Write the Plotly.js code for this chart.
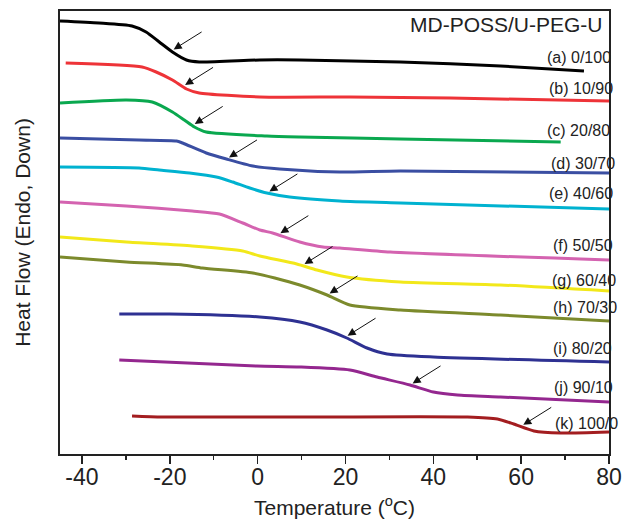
<!DOCTYPE html>
<html>
<head>
<meta charset="utf-8">
<script src="https://cdn.plot.ly/plotly-3.0.1.min.js"></script>
<style>html,body{margin:0;padding:0;background:#fff;}#chart{width:624px;height:519px;}</style>
</head>
<body>
<div id="chart"></div>
<script>
// ---- Data (temperature in °C, heat flow in arbitrary offset units) ----
const seriesNames = ["(a) 0/100","(b) 10/90","(c) 20/80","(d) 30/70","(e) 40/60","(f) 50/50","(g) 60/40","(h) 70/30","(i) 80/20","(j) 90/10","(k) 100/0"];

const tA = [-45,-36.1,-28.6,-25.4,-22.4,-19.4,-16.2,-13.3,0.5,9.6,32.5,55.3,74.3];
const hA = [43.3,43.1,42.8,42.2,41.2,40.2,39.4,39.2,39.4,39.4,39.2,38.8,38.3];

const tB = [-43.7,-26.3,-23.1,-19.4,-16.2,-13.3,0.5,21.0,43.9,80];
const hB = [39.1,38.7,38.2,37.4,36.5,36.1,35.7,35.7,35.6,35.3];

const tC = [-45,-29.9,-24.0,-19.4,-16.7,-14.4,-11.7,2.1,9.6,32.5,69.0];
const hC = [35.1,35.4,35.2,34.2,33.4,32.7,32.2,31.8,31.7,31.5,31.2];

const tD = [-45,-27.0,-18.5,-17.1,-11.7,-7.1,-1.1,5.0,18.7,32.5,80];
const hD = [31.6,31.4,31.3,31.1,30.1,29.5,28.8,28.5,28.2,28.3,28.1];

const tE = [-45,-27.0,-22.4,-15.5,-9.4,-5.7,-1.8,2.1,7.3,18.7,32.5,80];
const hE = [28.7,28.6,28.4,28.1,27.7,27.2,26.6,26.1,25.7,25.3,25.1,24.5];

const tF = [-45,-29.9,-14.9,-8.7,-3.4,0.5,3.4,9.6,14.9,18.7,30.2,80];
const hF = [25.2,24.8,24.3,24.0,23.1,22.4,22.1,21.2,20.7,20.6,20.2,19.4];

const tG = [-45,-29.9,-14.9,-3.4,0.5,8.9,13.5,20.3,32.5,55.3,80];
const hG = [21.7,21.2,20.8,20.3,19.8,19.0,18.4,17.7,17.2,16.9,16.3];

const tH = [-45,-29.9,-17.1,-12.6,-1.1,3.9,9.6,15.8,21.0,32.5,55.3,80];
const hH = [19.7,19.2,18.9,18.6,18.1,17.6,16.9,15.9,14.9,14.4,13.9,13.3];

const tI = [-31.5,-20.1,0.5,9.6,15.8,20.3,24.9,29.5,40.0,80];
const hI = [14.0,14.0,13.7,13.2,12.4,11.6,10.6,10.0,9.7,9.2];

const tJ = [-31.5,-0.2,9.6,21.0,27.2,34.7,40.0,45.5,55.3,80];
const hJ = [9.4,8.8,8.7,8.4,7.7,6.9,6.2,5.9,5.7,5.2];

const tK = [-28.6,-21.7,9.6,47.8,54.6,58.3,62.9,69.0,80];
const hK = [3.8,3.7,3.7,3.7,3.5,3.0,2.3,2.1,2.2];

// Glass transition temperatures marked by arrows
const tg = [-19.7,-17.1,-14.9,-7.1,2.1,4.6,10.1,15.8,19.9,34.7,59.9];

const xTicks = [-40,-20,0,20,40,60,80];

// ---- Styles / layout ----
const temps = [tA,tB,tC,tD,tE,tF,tG,tH,tI,tJ,tK];
const flows = [hA,hB,hC,hD,hE,hF,hG,hH,hI,hJ,hK];
const colors = ["#000000","#ee3338","#0aa84f","#3a4ea2","#00b2d0","#d463b0","#f2e81a","#7c8a2c","#2e3192","#94278f","#a31d20"];
const labelY = [39.7,36.6,32.4,29.1,26.1,20.9,17.4,14.7,10.6,6.7,3.1];
const labelX = [545,547,545,549,547,551,550,551,551,552,553];

function interp(xs, ys, x){
  for(let i=0;i<xs.length-1;i++){
    if(x>=xs[i] && x<=xs[i+1]){
      const f=(x-xs[i])/(xs[i+1]-xs[i]);
      return ys[i]+f*(ys[i+1]-ys[i]);
    }
  }
  return ys[ys.length-1];
}

const traces = temps.map((t,i)=>({
  x:t, y:flows[i], type:'scatter', mode:'lines',
  line:{color:colors[i], width:3, shape:'spline', smoothing:0.6},
  name:seriesNames[i], hoverinfo:'skip'
}));
// empty trace so the tick-label axis is drawn
traces.push({x:[], y:[], xaxis:'x2', yaxis:'y', type:'scatter', mode:'lines', hoverinfo:'skip'});

const annotations = [];
tg.forEach((T,i)=>{
  annotations.push({
    x:T, y:interp(temps[i],flows[i],T), xref:'x', yref:'y',
    ax:32, ay:-20, showarrow:true, arrowhead:2, arrowsize:1.6, arrowwidth:1,
    arrowcolor:'#111', standoff:3, text:''
  });
});
seriesNames.forEach((s,i)=>{
  annotations.push({
    text:s, xref:'paper', yref:'y', x:(labelX[i]-60)/549, y:labelY[i],
    xanchor:'left', yanchor:'middle', showarrow:false,
    font:{family:'Liberation Sans, Arial, sans-serif', size:16, color:'#222'}
  });
});
annotations.push({
  text:'MD-POSS/U-PEG-U', xref:'paper', yref:'paper', x:(605-60)/549, y:(454-25)/443,
  xanchor:'right', yanchor:'middle', showarrow:false,
  font:{family:'Liberation Sans, Arial, sans-serif', size:21, color:'#222'}
});

const layout = {
  width:624, height:519,
  margin:{l:60, r:15, t:11, b:65},
  paper_bgcolor:'#fff', plot_bgcolor:'#fff',
  showlegend:false,
  font:{family:'Liberation Sans, Arial, sans-serif', color:'#222'},
  xaxis:{
    range:[-45,80], tickvals:xTicks, showticklabels:false,
    ticks:'outside', ticklen:8, tickwidth:1.5, tickcolor:'#222',
    minor:{dtick:10, tick0:0, ticks:'outside', ticklen:4, tickwidth:1.5, tickcolor:'#222'},
    showline:true, linewidth:2, linecolor:'#222', mirror:true,
    showgrid:false, zeroline:false,
    title:{text:'Temperature (<sup>o</sup>C)', font:{size:21, color:'#222'}, standoff:40}
  },
  xaxis2:{
    overlaying:'x', anchor:'y', side:'bottom', range:[-45,80],
    tickvals:xTicks, ticktext:xTicks.map(String),
    ticks:'outside', ticklen:2, tickcolor:'rgba(0,0,0,0)',
    showline:false, showgrid:false, zeroline:false,
    tickfont:{size:23, color:'#222'}
  },
  yaxis:{
    range:[0,44.3], showticklabels:false, ticks:'',
    showline:true, linewidth:2, linecolor:'#222', mirror:true,
    showgrid:false, zeroline:false,
    title:{text:'Heat Flow (Endo, Down)', font:{size:21, color:'#222'}, standoff:22}
  },
  annotations:annotations
};

Plotly.newPlot('chart', traces, layout, {staticPlot:true, displayModeBar:false});
</script>
</body>
</html>
